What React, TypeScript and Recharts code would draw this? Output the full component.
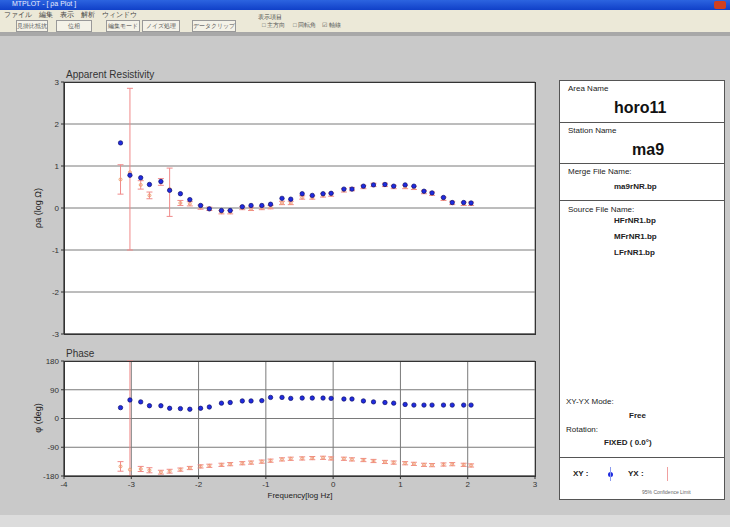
import {
  ScatterChart,
  Scatter,
  XAxis,
  YAxis,
  CartesianGrid,
  ErrorBar,
} from "recharts";

// log10 frequency of each sounding
const logFreq = [
  -3.16, -3.02, -2.86, -2.73, -2.56, -2.43, -2.27, -2.13, -1.97, -1.84, -1.66,
  -1.53, -1.35, -1.22, -1.06, -0.93, -0.76, -0.63, -0.46, -0.31, -0.15, -0.03,
  0.16, 0.28, 0.45, 0.6, 0.77, 0.9, 1.07, 1.2, 1.35, 1.47, 1.64, 1.77, 1.94,
  2.05,
];

// apparent resistivity, log10 ohm-m
const rhoXY = [
  1.55, 0.78, 0.72, 0.56, 0.63, 0.42, 0.34, 0.2, 0.06, -0.02, -0.06, -0.06,
  0.03, 0.06, 0.06, 0.09, 0.23, 0.21, 0.34, 0.3, 0.34, 0.35, 0.45, 0.45, 0.52,
  0.55, 0.56, 0.52, 0.55, 0.52, 0.4, 0.36, 0.25, 0.13, 0.13, 0.12,
];
const rhoYX = [
  0.68, 0.85, 0.55, 0.3, 0.62, 0.45, 0.12, 0.1, 0.02, -0.02, -0.1, -0.1, 0.0,
  -0.02, 0.0, 0.02, 0.12, 0.12, 0.25, 0.25, 0.3, 0.32, 0.42, 0.45, 0.5, 0.55,
  0.55, 0.5, 0.5, 0.48, 0.38, 0.34, 0.22, 0.12, 0.1, 0.1,
];
// [below, above]
const rhoYXErr: [number, number][] = [
  [0.35, 0.35], [1.85, 2.0], [0.1, 0.1], [0.08, 0.08], [0.08, 0.08],
  [0.65, 0.5], [0.06, 0.06], [0.05, 0.05], [0.05, 0.05], [0.04, 0.04],
  [0.04, 0.04], [0.04, 0.04], [0.04, 0.04], [0.04, 0.04], [0.04, 0.04],
  [0.04, 0.04], [0.04, 0.04], [0.04, 0.04], [0.04, 0.04], [0.04, 0.04],
  [0.04, 0.04], [0.04, 0.04], [0.04, 0.04], [0.04, 0.04], [0.04, 0.04],
  [0.04, 0.04], [0.04, 0.04], [0.04, 0.04], [0.04, 0.04], [0.04, 0.04],
  [0.04, 0.04], [0.04, 0.04], [0.04, 0.04], [0.04, 0.04], [0.04, 0.04],
  [0.04, 0.04],
];

// impedance phase, degrees
const phaseXY = [
  34, 58, 52, 40, 40, 32, 31, 29, 32, 36, 48, 50, 55, 55, 56, 66, 66, 63, 64,
  64, 64, 63, 61, 61, 55, 52, 50, 48, 44, 42, 42, 42, 42, 42, 42, 42,
];
const phaseYX = [
  -150, -160, -158, -162, -168, -165, -160, -155, -150, -148, -145, -143, -140,
  -138, -135, -132, -128, -126, -125, -124, -123, -125, -126, -128, -130, -133,
  -136, -138, -140, -142, -145, -146, -144, -143, -145, -147,
];
const phaseYXErr: [number, number][] = [
  [15, 15], [20, 340], [8, 8], [8, 8], [6, 6], [6, 6], [5, 5], [5, 5],
  [5, 5], [5, 5], [5, 5], [5, 5], [5, 5], [5, 5], [5, 5], [5, 5], [5, 5],
  [5, 5], [5, 5], [5, 5], [5, 5], [5, 5], [5, 5], [5, 5], [5, 5], [5, 5],
  [5, 5], [5, 5], [5, 5], [5, 5], [5, 5], [5, 5], [5, 5], [5, 5], [5, 5],
  [5, 5],
];

const freqTicks = [-4, -3, -2, -1, 0, 1, 2, 3];
const rhoTicks = [-3, -2, -1, 0, 1, 2, 3];
const phaseTicks = [-180, -90, 0, 90, 180];

const xyRho = logFreq.map((f, i) => ({ x: f, y: rhoXY[i] }));
const yxRho = logFreq.map((f, i) => ({ x: f, y: rhoYX[i], err: rhoYXErr[i] }));
const xyPhase = logFreq.map((f, i) => ({ x: f, y: phaseXY[i] }));
const yxPhase = logFreq.map((f, i) => ({
  x: f,
  y: phaseYX[i],
  err: phaseYXErr[i],
}));

const font = "'Liberation Sans', Arial, sans-serif";
const tickStyle = { fontSize: 8, fill: "#333", fontFamily: font };

const XYDot = (p: any) => (
  <circle cx={p.cx} cy={p.cy} r={2.2} fill="#1f2be0" stroke="#10106a" strokeWidth={0.7} />
);
const YXDot = (p: any) => (
  <circle cx={p.cx} cy={p.cy} r={1.5} fill="none" stroke="#f0a070" strokeWidth={1} />
);

const txt = (s: React.CSSProperties): React.CSSProperties => ({
  position: "absolute",
  fontFamily: font,
  color: "#222",
  whiteSpace: "nowrap",
  ...s,
});

export default function App() {
  return (
    <div
      style={{
        position: "fixed",
        left: 0,
        top: 0,
        width: 730,
        height: 527,
        background: "#c9c9c9",
        overflow: "hidden",
        fontFamily: font,
      }}
    >
      {/* window chrome */}
      <div style={{ position: "absolute", left: 0, top: 0, width: 730, height: 10, background: "linear-gradient(#2c64e0,#1040c8)" }} />
      <div style={txt({ left: 12, top: 0, fontSize: 7, color: "#e8eeff" })}>MTPLOT - [ ρa Plot ]</div>
      <div style={{ position: "absolute", left: 714, top: 1, width: 12, height: 8, background: "#d04020", borderRadius: 2 }} />
      <div style={{ position: "absolute", left: 0, top: 10, width: 730, height: 22, background: "#ece9d8" }} />
      <div style={txt({ left: 4, top: 10, fontSize: 7, color: "#444" })}>ファイル　編集　表示　解析　ウィンドウ</div>
      {["見掛比抵抗", "位相", "編集モード", "ノイズ処理", "データクリップ"].map((b, i) => (
        <div
          key={b}
          style={txt({
            left: [16, 56, 106, 142, 192][i],
            top: 20,
            width: [30, 34, 32, 36, 42][i],
            height: 10,
            fontSize: 6,
            color: "#555",
            border: "1px solid #999",
            background: "#f4f2e8",
            textAlign: "center",
            lineHeight: "10px",
          })}
        >
          {b}
        </div>
      ))}
      <div style={txt({ left: 258, top: 13, fontSize: 6, color: "#444" })}>表示項目</div>
      <div style={txt({ left: 262, top: 21, fontSize: 6, color: "#555" })}>□ 主方向　 □ 回転角　☑ 軸線</div>
      <div style={{ position: "absolute", left: 0, top: 32, width: 730, height: 4, background: "#a8a8a8" }} />
      <div style={{ position: "absolute", left: 0, top: 515, width: 730, height: 12, background: "#dcdcdc" }} />

      {/* titles */}
      <div style={txt({ left: 66, top: 69, fontSize: 10, color: "#333" })}>Apparent Resistivity</div>
      <div style={txt({ left: 66, top: 348, fontSize: 10, color: "#333" })}>Phase</div>
      <div style={txt({ left: 38, top: 208, fontSize: 9, transform: "translate(-50%,-50%) rotate(-90deg)" })}>ρa (log Ω)</div>
      <div style={txt({ left: 38, top: 418, fontSize: 9, transform: "translate(-50%,-50%) rotate(-90deg)" })}>φ (deg)</div>
      <div style={txt({ left: 300, top: 491, fontSize: 8, transform: "translateX(-50%)" })}>Frequency[log Hz]</div>

      {/* resistivity */}
      <div style={{ position: "absolute", left: 30, top: 70 }}>
        <ScatterChart width={520} height={275} margin={{ top: 12, right: 15, bottom: 10, left: 0 }}>
          <CartesianGrid stroke="#7a7a7a" fill="#fff" strokeWidth={1} />
          <XAxis
            type="number"
            dataKey="x"
            domain={[-4, 3]}
            ticks={freqTicks}
            tick={false}
            tickLine={false}
            height={1}
            stroke="#333"
            allowDataOverflow
          />
          <YAxis
            type="number"
            dataKey="y"
            domain={[-3, 3]}
            ticks={rhoTicks}
            width={34}
            tick={tickStyle}
            tickSize={3}
            stroke="#333"
            allowDataOverflow
          />
          <Scatter data={yxRho} shape={YXDot} isAnimationActive={false}>
            <ErrorBar dataKey="err" direction="y" width={3} stroke="#f08a8a" strokeWidth={1} />
          </Scatter>
          <Scatter data={xyRho} shape={XYDot} isAnimationActive={false} />
        </ScatterChart>
      </div>
      <div style={{ position: "absolute", left: 64, top: 82, width: 470, height: 251, border: "1px solid #333", pointerEvents: "none" }} />

      {/* phase */}
      <div style={{ position: "absolute", left: 30, top: 349 }}>
        <ScatterChart width={520} height={150} margin={{ top: 12, right: 15, bottom: 3, left: 0 }}>
          <CartesianGrid stroke="#7a7a7a" fill="#fff" strokeWidth={1} />
          <XAxis
            type="number"
            dataKey="x"
            domain={[-4, 3]}
            ticks={freqTicks}
            tick={tickStyle}
            tickSize={3}
            height={20}
            stroke="#333"
            allowDataOverflow
          />
          <YAxis
            type="number"
            dataKey="y"
            domain={[-180, 180]}
            ticks={phaseTicks}
            width={34}
            tick={tickStyle}
            tickSize={3}
            stroke="#333"
            allowDataOverflow
          />
          <Scatter data={yxPhase} shape={YXDot} isAnimationActive={false}>
            <ErrorBar dataKey="err" direction="y" width={3} stroke="#f08a8a" strokeWidth={1} />
          </Scatter>
          <Scatter data={xyPhase} shape={XYDot} isAnimationActive={false} />
        </ScatterChart>
      </div>
      <div style={{ position: "absolute", left: 64, top: 361, width: 470, height: 114, border: "1px solid #333", pointerEvents: "none" }} />

      {/* info panel */}
      <div style={{ position: "absolute", left: 559, top: 80, width: 164, height: 418, background: "#fff", border: "1px solid #555" }} />
      {[122, 163, 200, 457].map((y) => (
        <div key={y} style={{ position: "absolute", left: 559, top: y, width: 166, height: 1, background: "#555" }} />
      ))}
      <div style={txt({ left: 568, top: 84, fontSize: 8 })}>Area Name</div>
      <div style={txt({ left: 614, top: 99, fontSize: 16, fontWeight: "bold", color: "#111" })}>horo11</div>
      <div style={txt({ left: 568, top: 126, fontSize: 8 })}>Station Name</div>
      <div style={txt({ left: 632, top: 141, fontSize: 16, fontWeight: "bold", color: "#111" })}>ma9</div>
      <div style={txt({ left: 568, top: 167, fontSize: 8 })}>Merge File Name:</div>
      <div style={txt({ left: 614, top: 182, fontSize: 8, fontWeight: "bold" })}>ma9rNR.bp</div>
      <div style={txt({ left: 568, top: 205, fontSize: 8 })}>Source File Name:</div>
      <div style={txt({ left: 614, top: 216, fontSize: 8, fontWeight: "bold" })}>HFrNR1.bp</div>
      <div style={txt({ left: 614, top: 232, fontSize: 8, fontWeight: "bold" })}>MFrNR1.bp</div>
      <div style={txt({ left: 614, top: 248, fontSize: 8, fontWeight: "bold" })}>LFrNR1.bp</div>
      <div style={txt({ left: 566, top: 397, fontSize: 8 })}>XY-YX Mode:</div>
      <div style={txt({ left: 629, top: 411, fontSize: 8, fontWeight: "bold" })}>Free</div>
      <div style={txt({ left: 566, top: 425, fontSize: 8 })}>Rotation:</div>
      <div style={txt({ left: 604, top: 438, fontSize: 8, fontWeight: "bold" })}>FIXED ( 0.0°)</div>
      <div style={txt({ left: 573, top: 469, fontSize: 8, fontWeight: "bold" })}>XY :</div>
      <div style={{ position: "absolute", left: 608, top: 472, width: 5, height: 5, borderRadius: 3, background: "#1f2be0" }} />
      <div style={{ position: "absolute", left: 610, top: 467, width: 1, height: 14, background: "#8a9af0" }} />
      <div style={txt({ left: 628, top: 469, fontSize: 8, fontWeight: "bold" })}>YX :</div>
      <div style={{ position: "absolute", left: 667, top: 467, width: 1, height: 14, background: "#f0a0a0" }} />
      <div style={txt({ left: 642, top: 489, fontSize: 5, color: "#666" })}>95% Confidence Limit</div>
    </div>
  );
}
